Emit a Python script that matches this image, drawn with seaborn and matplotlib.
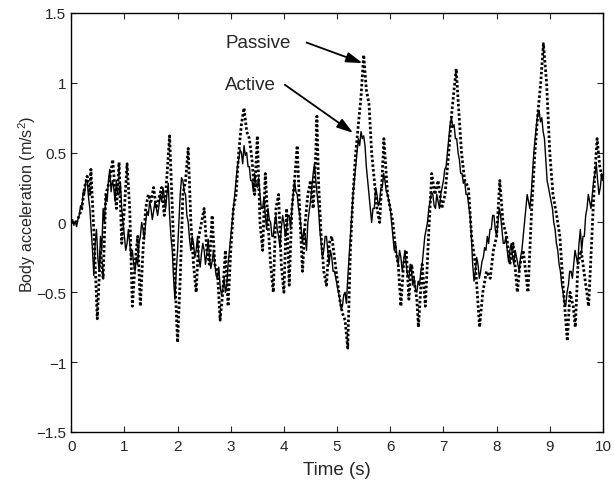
import numpy as np
import pandas as pd
import matplotlib
matplotlib.use('Agg')
import matplotlib.pyplot as plt
import seaborn as sns

# values
passive_t = [0.0, 0.1, 0.2, 0.25, 0.3, 0.35, 0.37, 0.43, 0.49, 0.55, 0.6, 0.65, 0.72, 0.78,
             0.85, 0.9, 0.95, 1.0, 1.05, 1.1, 1.15, 1.2, 1.25, 1.3, 1.35, 1.4, 1.45, 1.5,
             1.55, 1.6, 1.7, 1.75, 1.85, 1.9, 1.95, 2.0, 2.05, 2.1, 2.15, 2.2, 2.25, 2.3,
             2.35, 2.4, 2.45, 2.5, 2.55, 2.6, 2.65, 2.7, 2.75, 2.8, 2.85, 2.9, 2.95, 3.0,
             3.05, 3.1, 3.15, 3.2, 3.25, 3.3, 3.35, 3.4, 3.45, 3.5, 3.55, 3.6, 3.65, 3.7,
             3.75, 3.8, 3.85, 3.9, 3.95, 4.0, 4.05, 4.1, 4.15, 4.2, 4.25, 4.3, 4.35, 4.4,
             4.45, 4.5, 4.55, 4.6, 4.62, 4.65, 4.7, 4.75, 4.8, 4.85, 4.9, 4.95, 5.0, 5.05,
             5.1, 5.15, 5.2, 5.25, 5.3, 5.35, 5.4, 5.45, 5.5, 5.55, 5.6, 5.65, 5.7, 5.75,
             5.8, 5.85, 5.88, 5.95, 6.0, 6.05, 6.1, 6.15, 6.2, 6.25, 6.3, 6.35, 6.4, 6.5,
             6.53, 6.6, 6.66, 6.72, 6.78, 6.84, 6.9, 6.97, 7.03, 7.1, 7.16, 7.24, 7.28,
             7.34, 7.4, 7.47, 7.53, 7.6, 7.68, 7.74, 7.81, 7.88, 7.94, 8.0, 8.06, 8.12,
             8.19, 8.25, 8.31, 8.39, 8.44, 8.5, 8.59, 8.66, 8.72, 8.78, 8.83, 8.88, 8.94,
             9.0, 9.06, 9.13, 9.19, 9.25, 9.33, 9.38, 9.44, 9.48, 9.53, 9.59, 9.66, 9.73,
             9.78, 9.84, 9.89, 9.94, 10.0]
passive_acc = [0.0, 0.0, 0.1, 0.25, 0.33, 0.2, 0.38, -0.1, -0.69, -0.2, -0.4, 0.2, 0.3, 0.45,
               0.1, 0.43, -0.15, 0.1, 0.42, 0.1, -0.6, -0.3, -0.1, -0.6, -0.2, 0.1, 0.2, 0.15,
               0.25, 0.1, 0.25, 0.05, 0.62, 0.1, -0.4, -0.86, -0.4, 0.2, 0.3, 0.53, 0.0, -0.3,
               -0.5, -0.1, 0.0, 0.1, -0.2, -0.3, 0.05, -0.3, -0.35, -0.7, -0.5, -0.2, -0.6, -0.2,
               0.1, 0.2, 0.5, 0.7, 0.82, 0.65, 0.6, 0.45, 0.2, 0.62, 0.0, -0.2, 0.35, 0.0,
               -0.3, -0.5, 0.1, 0.2, -0.3, -0.5, 0.1, -0.45, 0.1, 0.3, 0.55, 0.05, -0.35, 0.0,
               0.2, 0.3, 0.1, 0.5, 0.76, 0.3, -0.1, -0.35, -0.45, -0.15, -0.1, -0.25, -0.4, -0.55,
               -0.65, -0.7, -0.9, -0.2, 0.2, 0.5, 0.7, 0.9, 1.2, 0.95, 0.85, 0.5, 0.3, 0.1,
               0.0, 0.35, 0.6, 0.2, 0.1, 0.0, -0.2, -0.3, -0.6, -0.3, -0.2, -0.55, -0.3, -0.55,
               -0.75, -0.3, -0.6, -0.1, 0.35, 0.2, 0.3, 0.1, 0.2, 0.5, 0.8, 1.1, 0.85,
               0.5, 0.3, 0.25, -0.1, -0.3, -0.75, -0.5, -0.35, -0.4, -0.2, -0.1, 0.3, 0.0,
               -0.1, -0.3, -0.15, -0.5, -0.3, -0.2, -0.5, 0.1, 0.5, 0.8, 1.0, 1.28, 1.0,
               0.5, 0.2, 0.05, -0.1, -0.45, -0.85, -0.5, -0.6, -0.75, -0.3, -0.2, -0.4, -0.6,
               -0.2, 0.3, 0.6, 0.4, 0.3]

# active: one row per half second, sampled every 0.025 s
active_t = [round(0.025 * i, 3) for i in range(401)]
active_acc = [
    0.0, 0.02, -0.02, 0.01, -0.03, 0.02, 0.05, 0.12, 0.1, 0.22, 0.2, 0.3, 0.3, 0.18, 0.1, -0.05, -0.2, -0.38, -0.15, -0.05,
    -0.25, -0.35, -0.1, -0.2, 0.1, 0.0, 0.2, 0.15, 0.3, 0.38, 0.22, 0.3, 0.25, 0.15, 0.3, 0.2, 0.2, 0.28, 0.1, 0.0,
    -0.1, -0.2, -0.15, -0.05, -0.15, -0.25, -0.2, -0.3, -0.35, -0.25, -0.3, -0.15, -0.1, 0.0, -0.05, -0.12, 0.0, 0.08, 0.05, 0.15,
    0.1, 0.02, 0.08, 0.15, 0.1, 0.05, 0.12, 0.2, 0.15, 0.25, 0.18, 0.1, 0.2, 0.28, 0.05, -0.1, -0.2, -0.4, -0.55, -0.35,
    -0.2, 0.0, 0.2, 0.32, 0.3, 0.22, 0.2, 0.05, 0.0, -0.12, -0.2, -0.1, -0.15, -0.25, -0.2, -0.1, -0.25, -0.32, -0.22, -0.15,
    -0.2, -0.3, -0.22, -0.12, -0.25, -0.33, -0.28, -0.2, -0.3, -0.38, -0.4, -0.32, -0.45, -0.52, -0.48, -0.4, -0.5, -0.45, -0.3, -0.2,
    -0.1, 0.0, 0.1, 0.2, 0.3, 0.4, 0.45, 0.52, 0.5, 0.42, 0.55, 0.48, 0.5, 0.4, 0.4, 0.3, 0.3, 0.22, 0.35, 0.28,
    0.25, 0.32, 0.2, 0.1, 0.1, 0.18, 0.05, -0.05, 0.1, 0.02, 0.0, -0.1, -0.1, 0.0, 0.05, -0.05, -0.1, -0.18, -0.05, 0.05,
    0.0, -0.1, -0.05, 0.05, 0.05, -0.05, 0.1, 0.2, 0.3, 0.22, 0.2, 0.1, 0.05, -0.05, -0.15, -0.05, -0.1, -0.2, 0.0, 0.08,
    0.15, 0.25, 0.35, 0.42, 0.3, 0.2, 0.1, -0.05, -0.15, -0.25, -0.2, -0.1, -0.1, -0.2, -0.3, -0.2, -0.25, -0.35, -0.35, -0.4,
    -0.45, -0.5, -0.55, -0.62, -0.6, -0.52, -0.5, -0.58, -0.4, -0.25, -0.1, 0.05, 0.2, 0.3, 0.4, 0.5, 0.6, 0.55, 0.65, 0.6,
    0.62, 0.55, 0.4, 0.3, 0.2, 0.1, 0.0, 0.1, 0.1, 0.25, 0.2, 0.12, 0.15, 0.25, 0.25, 0.35, 0.3, 0.22, 0.2, 0.15,
    0.1, 0.0, -0.1, -0.2, -0.15, -0.25, -0.3, -0.2, -0.25, -0.35, -0.28, -0.2, -0.3, -0.38, -0.4, -0.3, -0.35, -0.45, -0.4, -0.48,
    -0.5, -0.42, -0.45, -0.35, -0.3, -0.2, -0.1, -0.05, 0.0, 0.1, 0.15, 0.22, 0.2, 0.12, 0.1, 0.2, 0.15, 0.1, 0.2, 0.25,
    0.3, 0.38, 0.4, 0.5, 0.6, 0.7, 0.75, 0.68, 0.7, 0.6, 0.6, 0.5, 0.45, 0.35, 0.35, 0.28, 0.3, 0.2, 0.2, 0.12,
    0.05, -0.1, -0.3, -0.42, -0.35, -0.25, -0.3, -0.4, -0.35, -0.28, -0.25, -0.18, -0.2, -0.1, -0.15, -0.05, -0.05, 0.05, 0.05, -0.05,
    -0.1, 0.0, 0.1, 0.05, -0.05, -0.15, -0.15, -0.1, -0.2, -0.28, -0.2, -0.15, -0.25, -0.3, -0.2, -0.25, -0.3, -0.35, -0.25, -0.2,
    -0.1, 0.0, 0.1, 0.2, 0.15, 0.1, 0.2, 0.35, 0.5, 0.6, 0.7, 0.78, 0.8, 0.72, 0.75, 0.65, 0.6, 0.45, 0.3, 0.25,
    0.2, 0.15, 0.1, 0.0, -0.05, -0.15, -0.2, -0.3, -0.35, -0.45, -0.5, -0.58, -0.6, -0.5, -0.45, -0.35, -0.35, -0.4, -0.3, -0.2,
    -0.25, -0.3, -0.15, -0.05, -0.2, -0.1, -0.1, 0.05, 0.1, 0.2, 0.15, 0.1, 0.2, 0.3, 0.35, 0.42, 0.3, 0.2, 0.25, 0.35,
    0.3]

ytick_vals = [-1.5, -1, -0.5, 0, 0.5, 1, 1.5]
ytick_labels = ['\u22121.5', '\u22121', '\u22120.5', '0', '0.5', '1', '1.5']

sns.set_style('ticks')
plt.rcParams['font.family'] = ['Liberation Sans', 'DejaVu Sans']
plt.rcParams['mathtext.default'] = 'regular'

fig = plt.figure(figsize=(6.14, 4.81), dpi=100)
ax = fig.add_axes([0.116, 0.1, 0.866, 0.871])

passive = pd.DataFrame({'t': passive_t, 'acc': passive_acc})
active = pd.DataFrame({'t': active_t, 'acc': active_acc})

sns.lineplot(data=passive, x='t', y='acc', ax=ax, color='black',
             linewidth=2.0, estimator=None)
ax.lines[-1].set_dashes((0.9, 0.8))
sns.lineplot(data=active, x='t', y='acc', ax=ax, color='black',
             linewidth=1.0, estimator=None)

ax.set_xlim(0, 10)
ax.set_ylim(-1.5, 1.5)
ax.set_xticks(range(0, 11))
ax.set_yticks(ytick_vals)
ax.set_yticklabels(ytick_labels)
ax.tick_params(direction='in', top=True, right=True, labelsize=11, length=4)
ax.tick_params(axis='x', pad=5)
for s in ax.spines.values():
    s.set_linewidth(1.0)
    s.set_color('black')

ax.set_xlabel('Time (s)', fontsize=13.5, labelpad=6)
ax.set_ylabel('Body acceleration (m/s$^2$)', fontsize=11.6)
ax.yaxis.set_label_coords(-0.063, 0.545)

ax.text(2.9, 1.288, 'Passive', fontsize=13.5, va='center', ha='left')
ax.text(2.9, 0.99, 'Active', fontsize=13.5, va='center', ha='left')
arrow = dict(arrowstyle='-|>,head_length=0.7,head_width=0.22', color='black',
             lw=1.3, shrinkA=0, shrinkB=0, mutation_scale=14)
ax.annotate('', xy=(5.479, 1.141), xytext=(4.425, 1.288), arrowprops=arrow)
ax.annotate('', xy=(5.302, 0.641), xytext=(4.017, 0.986), arrowprops=arrow)

fig.savefig('out.png', dpi=100)
